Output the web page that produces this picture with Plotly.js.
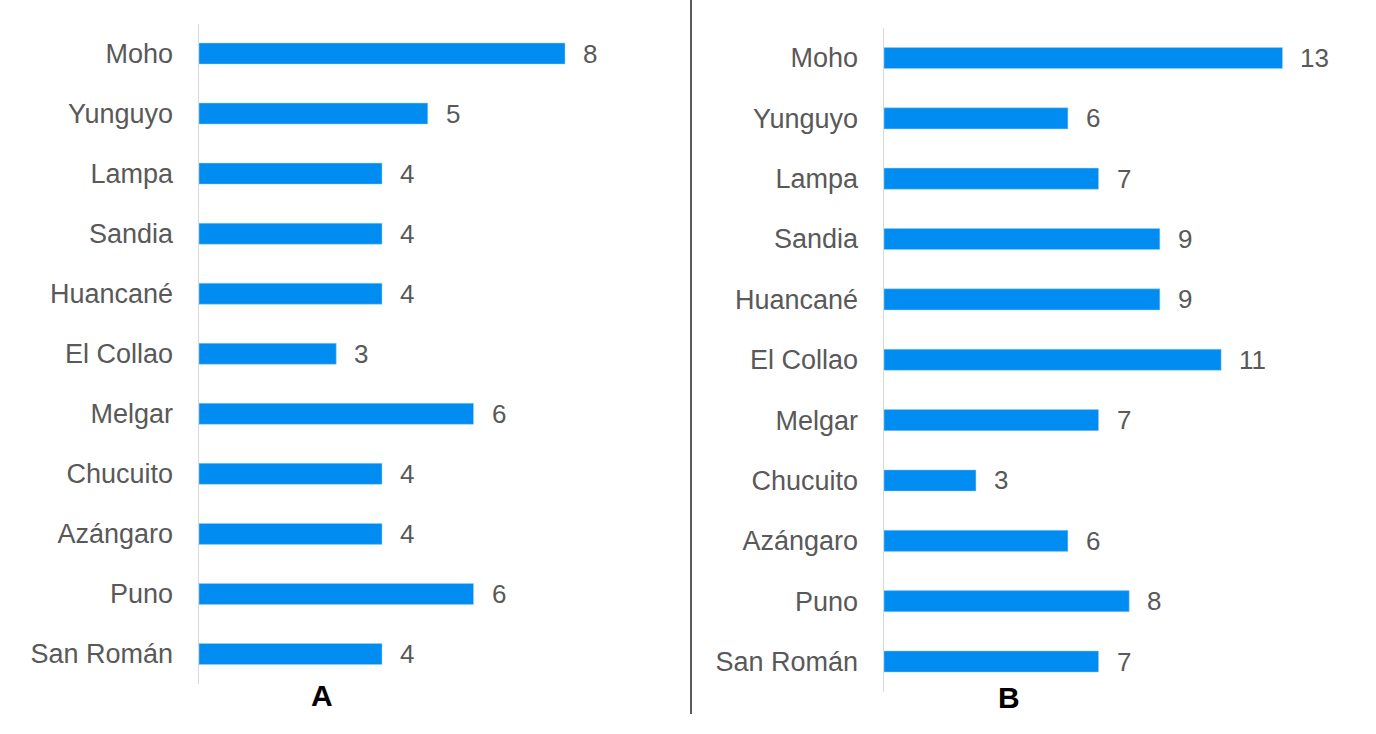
<!DOCTYPE html>
<html>
<head>
<meta charset="utf-8">
<script src="https://cdn.plot.ly/plotly-3.0.1.min.js"></script>
<style>html,body{margin:0;padding:0;background:#fff;}#chart{width:1376px;height:734px;}</style>
</head>
<body>
<div id="chart"></div>
<script>
const categories = ["Moho","Yunguyo","Lampa","Sandia","Huancané","El Collao","Melgar","Chucuito","Azángaro","Puno","San Román"];
const valuesA = [8,5,4,4,4,3,6,4,4,6,4];
const valuesB = [13,6,7,9,9,11,7,3,6,8,7];
const panelLabels = ["A","B"];

const W = 1376, H = 734;
const px = v => v / W;
const py = v => 1 - v / H;
const barColor = "#008CF0";
const FONT = "Liberation Sans, Arial, sans-serif";

const traces = [
  {type:"bar", orientation:"h", x:valuesA, y:categories, xaxis:"x", yaxis:"y",
   marker:{color:barColor, line:{color:"#9fd0f7", width:0.5}}, width:0.35, hoverinfo:"x+y"},
  {type:"bar", orientation:"h", x:valuesB, y:categories, xaxis:"x2", yaxis:"y2",
   marker:{color:barColor, line:{color:"#9fd0f7", width:0.5}}, width:0.35, hoverinfo:"x+y"}
];

const annotations = [];
valuesA.forEach((v,i)=>annotations.push({xref:"x", yref:"y", x:v, y:categories[i], text:String(v),
  showarrow:false, xanchor:"left", xshift:16, font:{family:FONT, size:26, color:"#595959"}}));
valuesB.forEach((v,i)=>annotations.push({xref:"x2", yref:"y2", x:v, y:categories[i], text:String(v),
  showarrow:false, xanchor:"left", xshift:16, font:{family:FONT, size:26, color:"#595959"}}));
annotations.push({xref:"paper", yref:"paper", x:px(322), y:py(695), text:"<b>"+panelLabels[0]+"</b>",
  showarrow:false, xanchor:"center", yanchor:"middle", font:{family:FONT, size:30, color:"#000"}});
annotations.push({xref:"paper", yref:"paper", x:px(1009), y:py(697), text:"<b>"+panelLabels[1]+"</b>",
  showarrow:false, xanchor:"center", yanchor:"middle", font:{family:FONT, size:30, color:"#000"}});

const yCommon = {type:"category", autorange:false, range:[10.5,-0.5], showline:true, linecolor:"#d9d9d9", linewidth:1.5,
  showgrid:false, zeroline:false, ticks:"outside", ticklen:19, tickcolor:"rgba(0,0,0,0)",
  tickfont:{family:FONT, size:27, color:"#595959"}, fixedrange:true};
const xCommon = {showgrid:false, zeroline:false, showticklabels:false, showline:false, ticks:"", fixedrange:true};

const layout = {
  width:W, height:H, margin:{l:0,r:0,t:0,b:0}, paper_bgcolor:"#fff", plot_bgcolor:"rgba(0,0,0,0)",
  showlegend:false, font:{family:FONT},
  xaxis:Object.assign({}, xCommon, {domain:[px(199), px(650)], range:[0, 451/45.75], anchor:"y"}),
  yaxis:Object.assign({}, yCommon, {domain:[py(684), py(23.5)], anchor:"x"}),
  xaxis2:Object.assign({}, xCommon, {domain:[px(884), px(1370)], range:[0, 486/30.65], anchor:"y2"}),
  yaxis2:Object.assign({}, yCommon, {domain:[py(691.7), py(27.8)], anchor:"x2"}),
  shapes:[{type:"line", xref:"paper", yref:"paper", x0:px(691), x1:px(691), y0:py(0), y1:py(714),
    line:{color:"#595959", width:2}}],
  annotations:annotations
};

Plotly.newPlot("chart", traces, layout, {displayModeBar:false, staticPlot:true});
</script>
</body>
</html>
